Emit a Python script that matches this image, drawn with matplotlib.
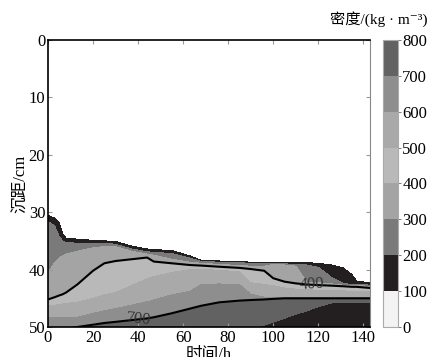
import numpy as np
import matplotlib
matplotlib.use('Agg')
import matplotlib.pyplot as plt
import matplotlib as mpl

plt.rcParams['font.family'] = ['Liberation Serif', 'DejaVu Serif', 'Noto Sans CJK SC']
plt.rcParams['font.size'] = 12

# -----------------------------------
# time columns (h) and depth (cm) of each density iso-surface
times = [0, 3, 5, 6.5, 8, 13, 20, 25, 30, 37, 44, 47, 55, 63, 68, 76, 85, 90, 96,
         100, 105, 110, 115, 120, 126, 131, 135, 137, 143]
# surface (100 kg/m3)
d100 = [30.6, 31.0, 31.8, 33.8, 34.5, 34.7, 34.9, 35.0, 35.1, 35.9, 36.4, 36.5, 36.7, 37.6, 38.4,
        38.5, 38.6, 38.7, 38.8, 38.8, 38.8, 38.8, 38.8, 38.9, 39.2, 39.7, 40.9, 42.0, 42.3]
d200 = [31.6, 32.4, 34.3, 35.0, 35.3, 35.4, 35.4, 35.4, 35.6, 36.4, 36.9, 37.0, 37.2, 38.0, 38.6,
        38.7, 38.8, 38.9, 39.0, 39.0, 39.0, 39.1, 39.2, 39.6, 41.4, 42.4, 42.6, 42.6, 42.7]
d300 = [40.5, 38.8, 38.0, 37.6, 37.3, 36.8, 36.2, 36.0, 36.0, 36.8, 37.3, 37.5, 38.2, 38.7, 38.9,
        39.1, 39.3, 39.4, 39.4, 39.1, 39.2, 39.4, 42.2, 42.3, 42.5, 42.7, 42.8, 42.8, 42.9]
d400 = [45.2, 44.8, 44.5, 44.3, 44.0, 42.6, 40.2, 38.9, 38.5, 38.2, 37.9, 38.6, 38.9, 39.2, 39.3,
        39.5, 39.7, 39.9, 40.2, 41.5, 42.1, 42.4, 42.6, 42.7, 42.8, 42.9, 43.0, 43.0, 43.2]
d500 = [46.3, 46.2, 46.1, 46.0, 45.9, 45.7, 45.0, 44.4, 44.0, 42.8, 41.6, 41.2, 40.5, 40.0, 40.0,
        40.1, 40.4, 42.3, 42.6, 42.8, 43.2, 43.4, 43.5, 43.6, 43.7, 43.7, 43.8, 43.8, 43.8]
d600 = [48.4, 48.4, 48.4, 48.4, 48.4, 48.3, 47.6, 47.2, 46.8, 46.2, 45.6, 45.3, 44.4, 43.8, 42.6,
        42.5, 42.6, 44.3, 44.8, 44.8, 44.8, 44.8, 44.8, 44.8, 44.8, 44.8, 44.8, 44.8, 44.8]
d700 = [50.4, 50.4, 50.3, 50.3, 50.3, 50.0, 49.6, 49.3, 49.1, 48.8, 48.5, 48.3, 47.6, 46.8, 46.3,
        45.7, 45.4, 45.3, 45.2, 45.1, 45.0, 45.0, 45.0, 45.0, 45.0, 45.0, 45.0, 45.0, 45.0]
d800 = [56.0, 55.8, 55.6, 55.4, 55.2, 55.0, 54.6, 54.3, 54.0, 53.6, 53.2, 53.0, 52.5, 52.0, 51.7,
        51.2, 50.7, 50.4, 49.9, 49.4, 48.7, 48.0, 47.4, 46.7, 46.0, 45.9, 45.9, 45.9, 45.9]

levels = [0, 100, 200, 300, 400, 500, 600, 700, 800]
band_colors = ['#f3f3f3', '#231f20', '#7a7a7a', '#a4a4a4', '#b9b9b9',
               '#a9a9a9', '#8e8e8e', '#626262']
over_color = '#231f20'
line_levels = [400, 700]
# -----------------------------------

n_t = len(times)
rows_d = [[0.0] * n_t, d100, d200, d300, d400, d500, d600, d700, d800, [60.0] * n_t]
rows_v = [10, 100, 200, 300, 400, 500, 600, 700, 800, 900]
Y = np.array(rows_d)
X = np.tile(np.array(times, dtype=float), (len(rows_d), 1))
Z = np.array([[v] * n_t for v in rows_v], dtype=float)

# plot uses pure white above the surface, the colorbar keeps the light grey
plot_cmap = mpl.colors.ListedColormap(['white'] + band_colors[1:])
plot_cmap.set_over(over_color)
cmap = mpl.colors.ListedColormap(band_colors)
norm = mpl.colors.BoundaryNorm(levels, cmap.N)

fig = plt.figure(figsize=(4.30, 3.57), dpi=100)
ax = fig.add_axes([0.1116, 0.084, 0.749, 0.804])
cax = fig.add_axes([0.8907, 0.084, 0.035, 0.804])

ax.contourf(X, Y, Z, levels=levels, cmap=plot_cmap, norm=norm, extend='max')
cs = ax.contour(X, Y, Z, levels=line_levels, colors='k', linewidths=1.5)
lbl = ax.clabel(cs, fmt='%d', inline=False, fontsize=12,
                manual=[(117, 42.4), (40, 47.6)])
for t in lbl:
    t.set_color('#333333')

ax.set_xlim(0, 143)
ax.set_ylim(50, 0)
ax.set_xticks(np.arange(0, 141, 20))
ax.set_yticks(np.arange(0, 51, 10))
ax.tick_params(direction='in', length=3, top=True, right=True, pad=2,
               color='#999999', labelsize=12)
for s in ['left', 'bottom', 'top']:
    ax.spines[s].set_linewidth(1.2)
ax.spines['right'].set_color('#888888')
ax.set_xlabel('时间/h', fontsize=12, labelpad=1)
ax.set_ylabel('沉距/cm', fontsize=12, labelpad=0)

sm = mpl.cm.ScalarMappable(norm=norm, cmap=cmap)
cb = fig.colorbar(sm, cax=cax, ticks=levels)
cb.outline.set_edgecolor('#aaaaaa')
cb.outline.set_linewidth(0.8)
cax.tick_params(length=2, width=0.6, color='#666666', labelsize=12, pad=1)
fig.text(0.995, 0.925, '密度/(kg · m⁻³)', ha='right', va='bottom', fontsize=11)

fig.savefig('out.png', dpi=100)
